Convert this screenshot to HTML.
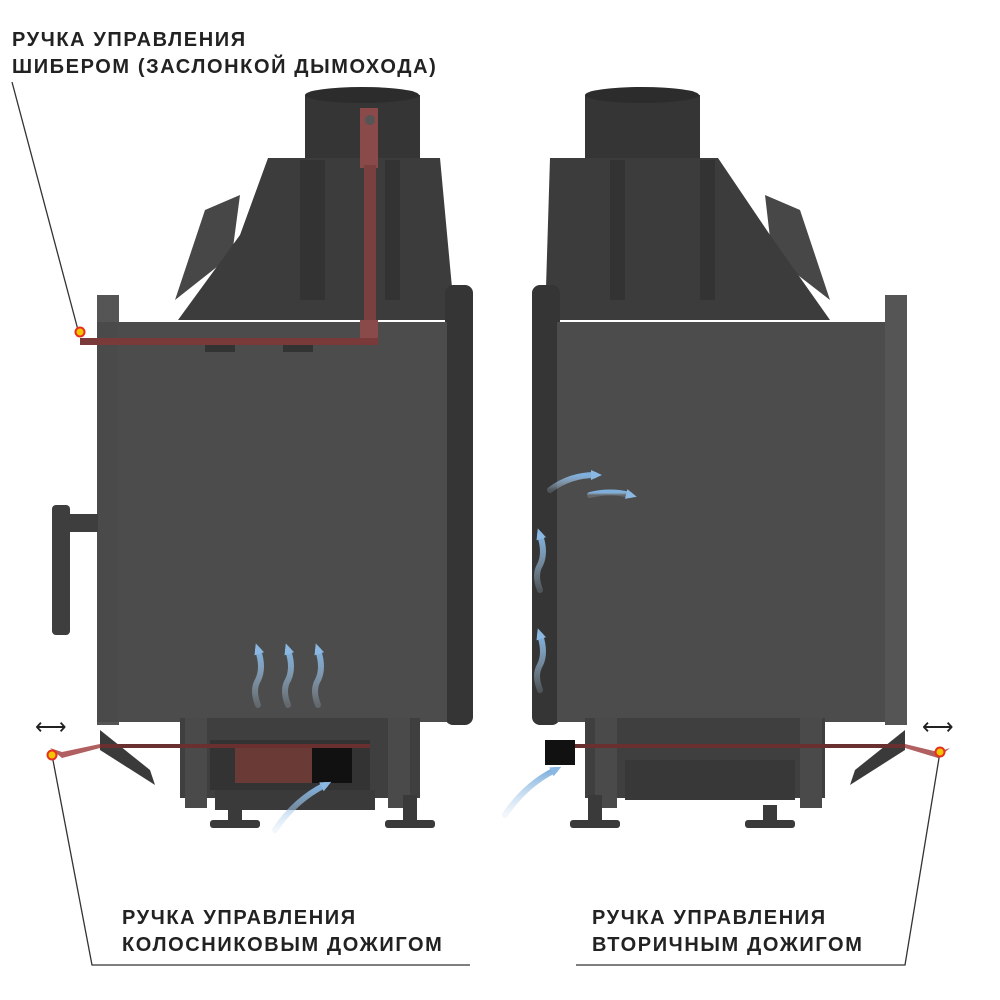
<!DOCTYPE html>
<html><head><meta charset="utf-8"><style>
html,body{margin:0;padding:0;background:#fff}
svg{display:block}
text{font-family:"Liberation Sans",sans-serif;font-weight:bold;font-size:20px;fill:#222;letter-spacing:1.6px}
</style></head><body>
<svg width="1000" height="1000" viewBox="0 0 1000 1000">
<defs>
<linearGradient id="air" x1="0" y1="1" x2="0" y2="0"><stop offset="0" stop-color="#bcd6ee" stop-opacity="0.2"/><stop offset="1" stop-color="#7fb0dd"/></linearGradient>
<marker id="ah" markerWidth="12" markerHeight="12" refX="4" refY="6" orient="auto" markerUnits="userSpaceOnUse"><path d="M0,1 L11,6 L0,11 z" fill="#8ab8e2"/></marker>
</defs>
<text x="12" y="46">РУЧКА УПРАВЛЕНИЯ</text>
<text x="12" y="73">ШИБЕРОМ (ЗАСЛОНКОЙ ДЫМОХОДА)</text>
<text x="122" y="924">РУЧКА УПРАВЛЕНИЯ</text>
<text x="122" y="951">КОЛОСНИКОВЫМ ДОЖИГОМ</text>
<text x="592" y="924">РУЧКА УПРАВЛЕНИЯ</text>
<text x="592" y="951">ВТОРИЧНЫМ ДОЖИГОМ</text>
<g stroke="#333" stroke-width="1.3" fill="none">
<polyline points="12,82 78,330"/>
<polyline points="52,755 92,965 470,965"/>
<polyline points="940,752 905,965 576,965"/>
</g>

<g>
<rect x="305" y="95" width="115" height="70" fill="#353535"/>
<ellipse cx="362" cy="95" rx="57" ry="8" fill="#2c2c2c"/>
<polygon points="175,300 205,210 240,195 232,255" fill="#474747"/>
<polygon points="268,158 440,158 455,320 178,320 240,235" fill="#3c3c3c"/>
<polygon points="300,160 325,160 325,300 300,300" fill="#333"/>
<polygon points="385,160 400,160 400,300 385,300" fill="#333"/>
<rect x="445" y="285" width="28" height="440" rx="8" fill="#353535"/>
<rect x="97" y="295" width="22" height="430" fill="#555"/>
<rect x="97" y="322" width="350" height="400" fill="#4a4a4a"/>
<rect x="118" y="322" width="329" height="400" fill="#4c4c4c"/>
<rect x="52" y="505" width="18" height="130" rx="4" fill="#3e3e3e"/>
<rect x="68" y="514" width="30" height="18" fill="#3e3e3e"/>
<rect x="205" y="340" width="30" height="12" fill="#333"/>
<rect x="283" y="340" width="30" height="12" fill="#333"/>
<rect x="360" y="108" width="18" height="60" fill="#8a4a4a"/>
<rect x="364" y="165" width="12" height="175" fill="#7a4040"/>
<rect x="360" y="320" width="18" height="25" fill="#8a4a4a"/>
<circle cx="370" cy="120" r="5" fill="#555"/>
<rect x="80" y="338" width="298" height="7" fill="#7a3a3a"/>
<circle cx="80" cy="332" r="4.5" fill="#f5c400" stroke="#e53020" stroke-width="2"/>
<polygon points="100,730 150,770 155,785 100,750" fill="#3a3a3a"/>
<rect x="180" y="718" width="240" height="80" fill="#3f3f3f"/>
<rect x="185" y="718" width="22" height="90" fill="#4a4a4a"/>
<rect x="388" y="718" width="22" height="90" fill="#4a4a4a"/>
<rect x="210" y="740" width="160" height="50" fill="#333"/>
<rect x="235" y="748" width="77" height="35" fill="#6a3a36"/>
<rect x="312" y="748" width="40" height="35" fill="#111"/>
<rect x="100" y="744" width="270" height="4" fill="#6a3030"/>
<rect x="215" y="790" width="160" height="20" fill="#3a3a3a"/>
<rect x="210" y="820" width="50" height="8" rx="3" fill="#3a3a3a"/>
<rect x="228" y="805" width="14" height="18" fill="#3a3a3a"/>
<rect x="385" y="820" width="50" height="8" rx="3" fill="#3a3a3a"/>
<rect x="403" y="795" width="14" height="28" fill="#3a3a3a"/>
<polygon points="50,748 62,752 100,744 100,748 62,758" fill="#b06060"/>
<circle cx="52" cy="755" r="4.5" fill="#f5c400" stroke="#e53020" stroke-width="2"/>
<text x="35" y="734" style="font-size:22px;font-weight:normal;letter-spacing:0">⟷</text>
<g stroke="url(#air)" stroke-width="6" fill="none" stroke-linecap="round">
<path d="M258,705 q-6,-15 0,-25 q6,-12 0,-30" marker-end="url(#ah)"/>
<path d="M288,705 q-6,-15 0,-25 q6,-12 0,-30" marker-end="url(#ah)"/>
<path d="M318,705 q-6,-15 0,-25 q6,-12 0,-30" marker-end="url(#ah)"/>
<path d="M275,830 q20,-30 50,-45" marker-end="url(#ah)"/>
</g>
</g>

<g>
<rect x="585" y="95" width="115" height="70" fill="#353535"/>
<ellipse cx="642" cy="95" rx="57" ry="8" fill="#2c2c2c"/>
<polygon points="830,300 800,210 765,195 772,255" fill="#474747"/>
<polygon points="550,158 718,158 770,235 830,320 545,320" fill="#3c3c3c"/>
<polygon points="610,160 625,160 625,300 610,300" fill="#333"/>
<polygon points="700,160 715,160 715,300 700,300" fill="#333"/>
<rect x="532" y="285" width="28" height="440" rx="8" fill="#353535"/>
<rect x="557" y="322" width="350" height="400" fill="#4c4c4c"/>
<rect x="885" y="295" width="22" height="430" fill="#555"/>
<polygon points="905,730 855,770 850,785 905,750" fill="#3a3a3a"/>
<rect x="585" y="718" width="240" height="80" fill="#3f3f3f"/>
<rect x="595" y="718" width="22" height="90" fill="#4a4a4a"/>
<rect x="800" y="718" width="22" height="90" fill="#4a4a4a"/>
<rect x="625" y="760" width="170" height="40" fill="#383838"/>
<rect x="545" y="740" width="30" height="25" fill="#111"/>
<rect x="575" y="744" width="330" height="4" fill="#6a3030"/>
<rect x="570" y="820" width="50" height="8" rx="3" fill="#3a3a3a"/>
<rect x="588" y="795" width="14" height="28" fill="#3a3a3a"/>
<rect x="745" y="820" width="50" height="8" rx="3" fill="#3a3a3a"/>
<rect x="763" y="805" width="14" height="18" fill="#3a3a3a"/>
<polygon points="950,748 938,752 905,744 905,748 938,758" fill="#b06060"/>
<circle cx="940" cy="752" r="4.5" fill="#f5c400" stroke="#e53020" stroke-width="2"/>
<text x="922" y="734" style="font-size:22px;font-weight:normal;letter-spacing:0">⟷</text>
<g stroke="url(#air)" stroke-width="6" fill="none" stroke-linecap="round">
<path d="M540,690 q-6,-15 0,-25 q6,-12 0,-30" marker-end="url(#ah)"/>
<path d="M540,590 q-6,-15 0,-25 q6,-12 0,-30" marker-end="url(#ah)"/>
<path d="M550,490 q20,-15 45,-15" marker-end="url(#ah)"/>
<path d="M590,495 q20,-5 40,0" marker-end="url(#ah)"/>
<path d="M505,815 q20,-30 50,-45" marker-end="url(#ah)"/>
</g>
</g>
</svg>
</body></html>
